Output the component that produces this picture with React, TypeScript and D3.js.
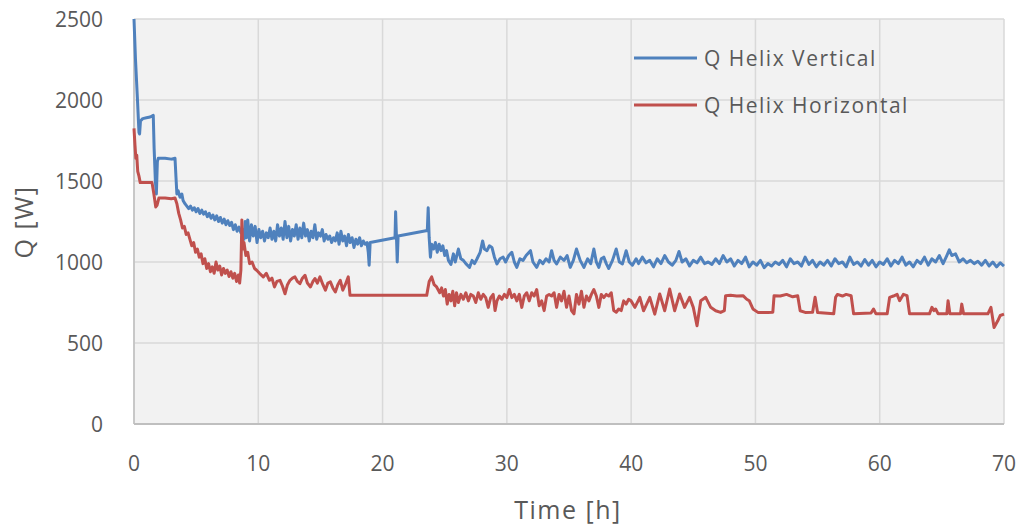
import * as d3 from "d3";
import React from "react";

const W = 1019;
const H = 526;
const margin = { top: 19, right: 15, bottom: 102, left: 134 };

const xTicks = [0, 10, 20, 30, 40, 50, 60, 70];
const yTicks = [0, 500, 1000, 1500, 2000, 2500];

const seriesNames = ["Q Helix Vertical", "Q Helix Horizontal"];
const seriesColors = ["#4F81BD", "#C0504D"];

// [time h, Q W]
const vertical: [number, number][] = [
  [0, 2500], [0.12, 2250], [0.28, 2000], [0.4, 1800], [0.45, 1790], [0.52, 1870], [0.7, 1885],
  [1.0, 1890], [1.3, 1895], [1.55, 1905], [1.62, 1700], [1.72, 1500], [1.8, 1420], [1.88, 1620],
  [1.95, 1640], [2.5, 1640], [3.0, 1635], [3.3, 1640], [3.38, 1520], [3.45, 1420], [3.55, 1440],
  [3.7, 1400], [3.85, 1420], [3.95, 1380], [4.1, 1360], [4.25, 1345], [4.4, 1330], [4.55, 1345],
  [4.7, 1320], [4.85, 1335], [5.0, 1310], [5.15, 1330], [5.3, 1300], [5.45, 1320], [5.6, 1295],
  [5.75, 1310], [5.9, 1280], [6.05, 1300], [6.2, 1270], [6.35, 1290], [6.5, 1260], [6.65, 1285],
  [6.8, 1250], [6.95, 1275], [7.1, 1240], [7.25, 1265], [7.4, 1230], [7.55, 1255], [7.7, 1225],
  [7.85, 1245], [8.0, 1200], [8.15, 1230], [8.3, 1190], [8.45, 1215], [8.6, 1180], [8.75, 1200],
  [8.85, 1140], [8.95, 1250], [9.05, 1150], [9.15, 1260], [9.3, 1130], [9.45, 1230], [9.6, 1160],
  [9.75, 1220], [9.9, 1120], [10.05, 1200], [10.2, 1150], [10.35, 1190], [10.5, 1130], [10.65, 1180],
  [10.8, 1150], [10.95, 1210], [11.1, 1140], [11.25, 1190], [11.4, 1130], [11.55, 1230], [11.7, 1160],
  [11.85, 1210], [12.0, 1140], [12.15, 1250], [12.3, 1150], [12.45, 1220], [12.6, 1130], [12.75, 1200],
  [12.9, 1160], [13.05, 1230], [13.2, 1140], [13.35, 1210], [13.5, 1150], [13.65, 1240], [13.8, 1160],
  [13.95, 1200], [14.1, 1130], [14.25, 1190], [14.4, 1150], [14.55, 1230], [14.7, 1140], [14.85, 1180],
  [15.0, 1160], [15.15, 1200], [15.3, 1130], [15.45, 1170], [15.6, 1140], [15.75, 1160], [15.9, 1120],
  [16.05, 1150], [16.2, 1130], [16.35, 1180], [16.5, 1110], [16.65, 1190], [16.8, 1130], [16.95, 1160],
  [17.1, 1100], [17.25, 1170], [17.4, 1120], [17.55, 1150], [17.7, 1090], [17.85, 1140], [18.0, 1110],
  [18.15, 1150], [18.3, 1100], [18.45, 1130], [18.6, 1110], [18.75, 1120], [18.85, 1060], [18.92, 980],
  [19.0, 1120], [21.0, 1150], [21.05, 1310], [21.12, 1150], [21.18, 1000], [21.25, 1160], [23.6, 1195],
  [23.67, 1335], [23.75, 1150], [23.85, 1030], [23.95, 1110], [24.1, 1080], [24.25, 1120], [24.4, 1060],
  [24.55, 1110], [24.7, 1070], [24.85, 1100], [25.0, 1040], [25.15, 1070], [25.3, 1010], [25.5, 985],
  [25.7, 1050], [25.85, 1000], [26.1, 1080], [26.3, 1020], [26.5, 1010], [26.7, 990], [27.0, 967],
  [27.2, 1010], [27.4, 990], [27.6, 1020], [27.85, 1060], [28.05, 1130], [28.2, 1080], [28.4, 1070],
  [28.6, 1100], [28.8, 1090], [29.0, 1030], [29.2, 988], [29.45, 1020], [29.7, 1030], [29.9, 1000],
  [30.15, 1040], [30.4, 1060], [30.6, 1000], [30.8, 967], [31.05, 1020], [31.3, 1010], [31.55, 1040],
  [31.9, 1070], [32.1, 1000], [32.4, 967], [32.65, 1010], [32.9, 990], [33.15, 1020], [33.4, 1000],
  [33.6, 1070], [33.8, 1010], [34.0, 988], [34.3, 1030], [34.6, 1010], [34.85, 1040], [35.1, 967],
  [35.35, 1010], [35.6, 1080], [35.9, 1010], [36.2, 967], [36.5, 1020], [36.75, 990], [37.0, 1080],
  [37.2, 1000], [37.4, 967], [37.6, 1020], [37.8, 1030], [38.0, 990], [38.2, 960], [38.5, 1010],
  [38.8, 1080], [39.05, 1000], [39.3, 988], [39.6, 1070], [39.85, 1000], [40.1, 980], [40.4, 1020],
  [40.6, 990], [40.9, 1030], [41.2, 995], [41.5, 1010], [41.8, 970], [42.1, 1020], [42.4, 990],
  [42.7, 1040], [43.0, 1000], [43.3, 980], [43.6, 1010], [43.85, 1065], [44.1, 1000], [44.4, 1020],
  [44.7, 975], [45.0, 1010], [45.3, 995], [45.6, 1030], [45.9, 990], [46.2, 1000], [46.5, 985],
  [46.8, 1020], [47.1, 990], [47.4, 1040], [47.7, 1000], [48.0, 1020], [48.3, 975], [48.6, 1010],
  [48.9, 990], [49.2, 1030], [49.5, 970], [49.8, 1000], [50.1, 980], [50.4, 1010], [50.7, 965],
  [51.0, 990], [51.3, 975], [51.6, 1000], [51.9, 985], [52.2, 1010], [52.5, 970], [52.8, 1020],
  [53.1, 990], [53.4, 1000], [53.7, 975], [54.0, 1030], [54.3, 985], [54.6, 1010], [54.9, 970],
  [55.2, 1000], [55.5, 980], [55.8, 1010], [56.1, 975], [56.4, 1020], [56.7, 990], [57.0, 1000],
  [57.3, 970], [57.6, 1030], [57.9, 985], [58.2, 1000], [58.5, 975], [58.8, 1015], [59.1, 980],
  [59.4, 1010], [59.7, 970], [60.0, 1000], [60.3, 985], [60.6, 1020], [60.9, 975], [61.2, 1010],
  [61.5, 990], [61.8, 1030], [62.1, 980], [62.4, 1000], [62.7, 970], [63.0, 1010], [63.3, 990],
  [63.6, 1030], [63.9, 980], [64.2, 1020], [64.5, 1000], [64.8, 1040], [65.1, 990], [65.4, 1040],
  [65.6, 1075], [65.8, 1040], [66.1, 1050], [66.4, 1000], [66.7, 1020], [67.0, 995], [67.3, 1010],
  [67.6, 990], [67.9, 1005], [68.2, 980], [68.5, 1010], [68.8, 975], [69.1, 1000], [69.4, 970],
  [69.7, 995], [70, 975],
];

const horizontal: [number, number][] = [
  [0, 1825], [0.08, 1720], [0.15, 1640], [0.22, 1660], [0.3, 1560], [0.4, 1530], [0.5, 1490],
  [1.0, 1490], [1.45, 1490], [1.6, 1420], [1.75, 1340], [1.85, 1350], [2.0, 1395], [2.5, 1395],
  [3.0, 1390], [3.3, 1395], [3.45, 1360], [3.6, 1300], [3.75, 1260], [3.9, 1210], [4.05, 1220],
  [4.2, 1170], [4.35, 1180], [4.5, 1140], [4.65, 1100], [4.8, 1120], [4.95, 1060], [5.1, 1080],
  [5.25, 1030], [5.4, 1050], [5.55, 990], [5.7, 1020], [5.85, 960], [6.0, 990], [6.15, 940],
  [6.3, 970], [6.45, 930], [6.6, 1000], [6.75, 950], [6.9, 975], [7.05, 920], [7.2, 960],
  [7.35, 930], [7.5, 950], [7.65, 910], [7.8, 940], [7.95, 900], [8.1, 930], [8.25, 880],
  [8.4, 920], [8.5, 870], [8.6, 950], [8.68, 1260], [8.75, 1080], [8.85, 1120], [9.0, 1040],
  [9.15, 1060], [9.3, 990], [9.5, 1000], [9.7, 960], [9.87, 949], [10.1, 930], [10.4, 908],
  [10.65, 930], [10.9, 887], [11.1, 900], [11.3, 846], [11.5, 880], [11.75, 887], [11.95, 850],
  [12.15, 804], [12.35, 860], [12.55, 887], [12.75, 900], [12.95, 908], [13.15, 880], [13.35, 866],
  [13.55, 900], [13.76, 918], [13.95, 870], [14.2, 846], [14.4, 880], [14.56, 898], [14.75, 870],
  [14.96, 908], [15.2, 860], [15.4, 826], [15.6, 870], [15.8, 877], [16.0, 840], [16.2, 815],
  [16.4, 860], [16.6, 887], [16.8, 826], [17.0, 860], [17.24, 908], [17.38, 794], [23.55, 794],
  [23.75, 880], [23.95, 908], [24.15, 860], [24.35, 846], [24.6, 810], [24.75, 840], [24.9, 790],
  [25.05, 830], [25.2, 740], [25.35, 800], [25.5, 760], [25.65, 820], [25.8, 730], [25.95, 810],
  [26.1, 750], [26.3, 800], [26.5, 770], [26.7, 810], [26.9, 760], [27.1, 800], [27.3, 790],
  [27.5, 750], [27.7, 810], [27.9, 770], [28.1, 800], [28.3, 780], [28.5, 720], [28.7, 780],
  [28.9, 800], [29.05, 700], [29.2, 760], [29.4, 790], [29.6, 770], [29.8, 800], [30.0, 780],
  [30.2, 830], [30.4, 780], [30.6, 800], [30.8, 760], [31.0, 800], [31.2, 720], [31.4, 790],
  [31.6, 810], [31.8, 760], [32.0, 810], [32.2, 790], [32.4, 830], [32.6, 730], [32.8, 760],
  [33.0, 700], [33.2, 790], [33.4, 800], [33.6, 790], [33.8, 810], [34.0, 720], [34.2, 800],
  [34.4, 760], [34.6, 820], [34.8, 720], [35.0, 790], [35.2, 700], [35.4, 680], [35.6, 800],
  [35.8, 740], [36.0, 820], [36.2, 720], [36.4, 790], [36.6, 760], [36.8, 800], [37.0, 830],
  [37.2, 790], [37.4, 720], [37.6, 800], [37.8, 780], [38.0, 800], [38.2, 790], [38.4, 810],
  [38.6, 700], [38.8, 690], [39.0, 710], [39.2, 700], [39.4, 760], [39.6, 740], [39.8, 770],
  [40.0, 760], [40.3, 720], [40.7, 782], [41.0, 699], [41.5, 782], [41.9, 678], [42.3, 803],
  [42.7, 699], [43.1, 833], [43.5, 699], [43.9, 803], [44.3, 720], [44.7, 782], [45.0, 720],
  [45.3, 606], [45.6, 761], [46.0, 782], [46.4, 720], [46.8, 699], [47.2, 689], [47.5, 700],
  [47.6, 792], [48.0, 795], [48.5, 790], [49.0, 792], [49.3, 770], [49.5, 761], [49.8, 710],
  [50.2, 689], [51.0, 689], [51.4, 690], [51.5, 792], [52.0, 790], [52.5, 800], [53.0, 785],
  [53.4, 792], [53.6, 699], [54.0, 689], [54.6, 690], [54.8, 782], [55.0, 689], [56.3, 680],
  [56.45, 782], [56.6, 800], [57.0, 790], [57.3, 800], [57.7, 792], [57.9, 680], [59.3, 685],
  [59.5, 710], [59.7, 680], [60.6, 680], [60.8, 782], [61.1, 790], [61.4, 800], [61.6, 761],
  [61.9, 800], [62.2, 792], [62.4, 680], [64.0, 680], [64.2, 720], [64.35, 700], [64.5, 710],
  [64.7, 680], [65.4, 680], [65.5, 761], [65.65, 680], [66.5, 680], [66.6, 740], [66.75, 680],
  [68.7, 680], [68.95, 720], [69.2, 596], [69.5, 637], [69.7, 670], [70, 678],
];

const FONT = "'Open Sans', sans-serif";
const TEXT = "#595959";

export default function App() {
  const x = d3.scaleLinear().domain([0, 70]).range([margin.left, W - margin.right]);
  const y = d3.scaleLinear().domain([0, 2500]).range([H - margin.bottom, margin.top]);
  const line = d3
    .line<[number, number]>()
    .x((d) => x(d[0]))
    .y((d) => y(d[1]));
  const series = [vertical, horizontal];

  return (
    <svg
      width={W}
      height={H}
      style={{ position: "absolute", left: 0, top: 0, background: "#fff" }}
    >
      <rect
        x={x(0)}
        y={y(2500)}
        width={x(70) - x(0)}
        height={y(0) - y(2500)}
        fill="#f2f2f2"
      />
      {/* grid */}
      {yTicks.map((t) => (
        <line key={"gy" + t} x1={x(0)} x2={x(70)} y1={y(t)} y2={y(t)} stroke="#d9d9d9" strokeWidth={1.5} />
      ))}
      {xTicks.map((t) => (
        <line key={"gx" + t} x1={x(t)} x2={x(t)} y1={y(0)} y2={y(2500)} stroke="#d9d9d9" strokeWidth={1.5} />
      ))}
      <line x1={x(0)} x2={x(0)} y1={y(0)} y2={y(2500)} stroke="#bfbfbf" strokeWidth={1.5} />
      <line x1={x(0)} x2={x(70)} y1={y(0)} y2={y(0)} stroke="#bfbfbf" strokeWidth={2} />

      {/* series */}
      {series.map((s, i) => (
        <path
          key={seriesNames[i]}
          d={line(s) || ""}
          fill="none"
          stroke={seriesColors[i]}
          strokeWidth={3}
          strokeLinejoin="round"
        />
      ))}

      {/* tick labels */}
      <g fontFamily={FONT} fontSize={21} fill={TEXT}>
        {yTicks.map((t) => (
          <text key={"ly" + t} x={103} y={y(t) + 7.5} textAnchor="end">
            {t}
          </text>
        ))}
        {xTicks.map((t) => (
          <text key={"lx" + t} x={x(t)} y={471} textAnchor="middle">
            {t}
          </text>
        ))}
      </g>

      {/* axis titles */}
      <text
        x={568}
        y={519}
        textAnchor="middle"
        fontFamily={FONT}
        fontSize={25}
        letterSpacing={1.5}
        fill={TEXT}
      >
        Time [h]
      </text>
      <text
        transform={`translate(33, 222) rotate(-90)`}
        textAnchor="middle"
        fontFamily={FONT}
        fontSize={25}
        letterSpacing={1.5}
        fill={TEXT}
      >
        Q [W]
      </text>

      {/* legend */}
      {seriesNames.map((name, i) => (
        <g key={"lg" + i}>
          <line
            x1={634}
            x2={697}
            y1={58 + i * 47}
            y2={58 + i * 47}
            stroke={seriesColors[i]}
            strokeWidth={3}
          />
          <text
            x={704}
            y={66 + i * 47}
            fontFamily={FONT}
            fontSize={21}
            letterSpacing={1.5}
            fill={TEXT}
          >
            {name}
          </text>
        </g>
      ))}
    </svg>
  );
}
